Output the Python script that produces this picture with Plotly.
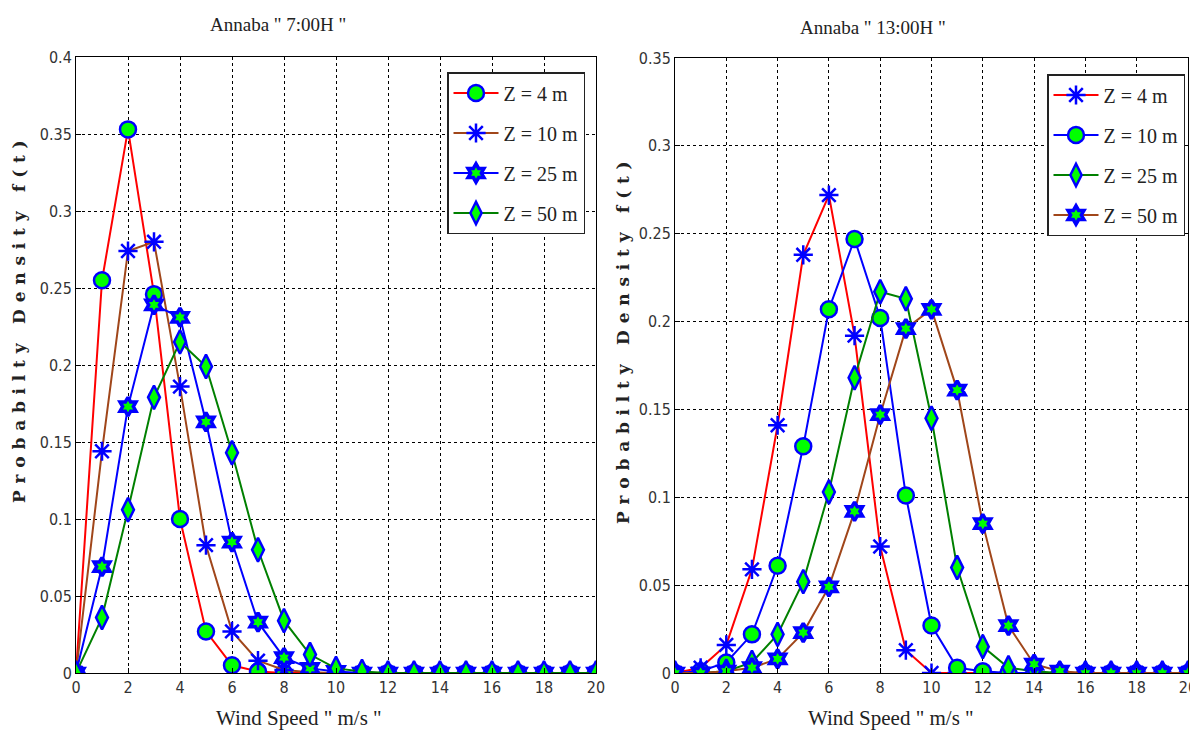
import plotly.graph_objects as go

# ---------------- data ----------------
wind_speed = list(range(21))
x_ticks = list(range(0, 21, 2))

# Annaba 7:00H
z4_7h = [0, 0.255, 0.353, 0.246, 0.100, 0.027, 0.005, 0.001, 0, 0, 0, 0, 0, 0, 0, 0, 0, 0, 0, 0, 0]
z10_7h = [0, 0.144, 0.274, 0.280, 0.186, 0.083, 0.027, 0.008, 0.002, 0.0005, 0, 0, 0, 0, 0, 0, 0, 0, 0, 0, 0]
z25_7h = [0, 0.069, 0.173, 0.239, 0.231, 0.163, 0.085, 0.033, 0.010, 0.003, 0.001, 0, 0, 0, 0, 0, 0, 0, 0, 0, 0]
z50_7h = [0, 0.036, 0.106, 0.179, 0.215, 0.199, 0.143, 0.080, 0.034, 0.012, 0.003, 0.001, 0, 0, 0, 0, 0, 0, 0, 0, 0]

# Annaba 13:00H
z4_13h = [0, 0.003, 0.016, 0.059, 0.141, 0.238, 0.272, 0.192, 0.072, 0.013, 0, 0, 0, 0, 0, 0, 0, 0, 0, 0, 0]
z10_13h = [0, 0.001, 0.006, 0.022, 0.061, 0.129, 0.207, 0.247, 0.202, 0.101, 0.027, 0.003, 0.001, 0, 0, 0, 0, 0, 0, 0, 0]
z25_13h = [0, 0, 0.001, 0.006, 0.022, 0.052, 0.103, 0.168, 0.217, 0.213, 0.145, 0.060, 0.015, 0.003, 0.001, 0, 0, 0, 0, 0, 0]
z50_13h = [0, 0, 0.001, 0.003, 0.008, 0.023, 0.049, 0.092, 0.147, 0.196, 0.207, 0.161, 0.085, 0.027, 0.005, 0.001, 0, 0, 0, 0, 0]

labels = ["Z = 4 m", "Z = 10 m", "Z = 25 m", "Z = 50 m"]

# ---------------- styles ----------------
RED, BROWN, BLUE, GREEN = "#ff0000", "#a0461a", "#0000ff", "#008000"
FACE, EDGE = "#00ff00", "#0000ff"
SERIF = "Liberation Serif, DejaVu Serif, serif"
NARROW = "Liberation Sans Narrow, DejaVu Sans Condensed, Arial Narrow, sans-serif"

def marker(sym):
    if sym == "asterisk":
        return dict(symbol="asterisk-open", size=16, color=EDGE,
                    line=dict(color=EDGE, width=2.5))
    if sym == "circle":
        return dict(symbol="circle", size=16, color=FACE, line=dict(color=EDGE, width=2.5))
    if sym == "diamond":
        return dict(symbol="diamond-tall", size=17, color=FACE, line=dict(color=EDGE, width=2.5))
    return dict(symbol="hexagram", size=14, color=FACE, line=dict(color=EDGE, width=3.5))

fig = go.Figure()

left_series = [
    (z4_7h, RED, "circle"),
    (z10_7h, BROWN, "asterisk"),
    (z25_7h, BLUE, "hexagram"),
    (z50_7h, GREEN, "diamond"),
]
right_series = [
    (z4_13h, RED, "asterisk"),
    (z10_13h, BLUE, "circle"),
    (z25_13h, GREEN, "diamond"),
    (z50_13h, BROWN, "hexagram"),
]

for i, (vals, col, sym) in enumerate(left_series):
    fig.add_trace(go.Scatter(
        x=wind_speed, y=vals, mode="lines+markers", name=labels[i],
        line=dict(color=col, width=2), marker=marker(sym),
        xaxis="x", yaxis="y", legend="legend", legendgroup="L%d" % i))

for i, (vals, col, sym) in enumerate(right_series):
    fig.add_trace(go.Scatter(
        x=wind_speed, y=vals, mode="lines+markers", name=labels[i],
        line=dict(color=col, width=2), marker=marker(sym),
        xaxis="x2", yaxis="y2", legend="legend2", legendgroup="R%d" % i))

axis_common = dict(
    showline=True, linecolor="black", linewidth=1, mirror=True,
    showgrid=True, gridcolor="black", griddash="dot", gridwidth=1,
    zeroline=False, ticks="inside", ticklen=5, tickcolor="black",
    automargin=False,
    tickfont=dict(family=NARROW, size=16, color="#333333"),
)

# the page body has an 8px margin, so the figure is offset by 8px
OFF = 8
W, H = 1198 - OFF, 739 - OFF
def px_x(p):
    return (p - OFF) / W
def px_y(p):
    return 1 - (p - OFF) / H

legend_common = dict(
    bgcolor="white", bordercolor="#222222", borderwidth=1.5,
    font=dict(family=SERIF, size=20, color="#222222"),
    itemwidth=45, tracegroupgap=11, xanchor="left", yanchor="top",
    traceorder="grouped",
)

fig.update_layout(
    width=W, height=H, margin=dict(l=0, r=0, t=0, b=0, autoexpand=False),
    paper_bgcolor="white", plot_bgcolor="white", showlegend=True,
    xaxis=dict(domain=[px_x(76), px_x(596)], range=[0, 20], tickvals=x_ticks,
               anchor="y", **axis_common),
    yaxis=dict(domain=[px_y(673), px_y(57)], range=[0, 0.4],
               tickvals=[0, 0.05, 0.1, 0.15, 0.2, 0.25, 0.3, 0.35, 0.4],
               ticktext=["0", "0.05", "0.1", "0.15", "0.2", "0.25", "0.3", "0.35", "0.4"],
               anchor="x", **axis_common),
    xaxis2=dict(domain=[px_x(675), px_x(1188)], range=[0, 20], tickvals=x_ticks,
                anchor="y2", **axis_common),
    yaxis2=dict(domain=[px_y(673), px_y(58)], range=[0, 0.35],
                tickvals=[0, 0.05, 0.1, 0.15, 0.2, 0.25, 0.3, 0.35],
                ticktext=["0", "0.05", "0.1", "0.15", "0.2", "0.25", "0.3", "0.35"],
                anchor="x2", **axis_common),
    legend=dict(x=px_x(447), y=px_y(72), **legend_common),
    legend2=dict(x=px_x(1047), y=px_y(74), **legend_common),
)

def spaced(s):
    return "\u2009\u2009".join(s)

ann = [
    dict(text='Annaba " 7:00H "', x=px_x(278), y=px_y(24), size=19, angle=0),
    dict(text='Annaba " 13:00H "', x=px_x(873), y=px_y(28), size=19, angle=0),
    dict(text='Wind Speed " m/s "', x=px_x(299), y=px_y(718), size=21, angle=0),
    dict(text='Wind Speed " m/s "', x=px_x(891), y=px_y(718), size=21, angle=0),
    dict(text="<b>" + spaced("Probabilty Density f(t)") + "</b>", x=px_x(19), y=px_y(322), size=17, angle=-90),
    dict(text="<b>" + spaced("Probabilty Density f(t)") + "</b>", x=px_x(623), y=px_y(343), size=17, angle=-90),
]
for a in ann:
    fig.add_annotation(
        text=a["text"], x=a["x"], y=a["y"], xref="paper", yref="paper",
        xanchor="center", yanchor="middle", showarrow=False, textangle=a["angle"],
        font=dict(family=SERIF if a["angle"] == 0 else "DejaVu Serif, serif",
                  size=a["size"], color="#222222"))

fig.write_html("out.html")
